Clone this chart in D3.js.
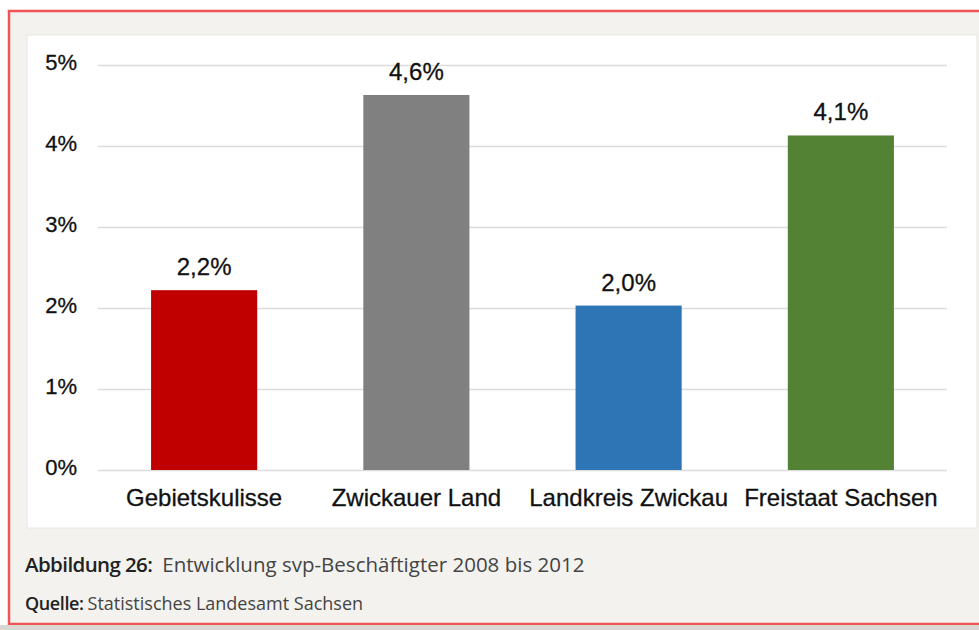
<!DOCTYPE html>
<head>
<meta charset="utf-8">
<style>
body { margin: 0; background: #fff; }
.tick text, .cat, .val { font-family: "Liberation Sans", Arial, sans-serif; fill: #111; stroke: #111; stroke-width: 0.3px; }
.caption { font-family: "Open Sans", Lato, sans-serif; fill: #333; }
</style>
<script src="https://d3js.org/d3.v7.min.js"></script>
</head>
<body>
<svg class="chart" width="979" height="630"></svg>
<script>

// Values (percent growth 2008-2012).
var categories = ["Gebietskulisse", "Zwickauer Land", "Landkreis Zwickau", "Freistaat Sachsen"];
var values = [2.22, 4.63, 2.03, 4.13];
var barColors = ["#c00000", "#808080", "#2e75b6", "#548235"];
var yTicks = [0, 1, 2, 3, 4, 5];

var svg = d3.select(".chart");

// Page background with the red frame.
svg.append("rect").attr("x", 0).attr("y", 0).attr("width", 979).attr("height", 630).attr("fill", "#fff");
svg.append("rect").attr("x", 9).attr("y", 11).attr("width", 980).attr("height", 613)
  .attr("fill", "#f3f2ee").attr("stroke", "#f05555").attr("stroke-width", 2.5);
svg.append("rect").attr("x", 0).attr("y", 625).attr("width", 979).attr("height", 5).attr("fill", "#d8d7d2");

// White chart panel.
svg.append("rect").attr("x", 27).attr("y", 35).attr("width", 950).attr("height", 493)
  .attr("fill", "#fff").attr("stroke", "#e6e6e6");

var x = d3.scaleBand().domain(categories).range([98, 947]).paddingInner(0.5).paddingOuter(0.25);
var y = d3.scaleLinear().domain([0, 5]).range([470, 65]);

// Gridlines and y labels.
var yAxis = svg.append("g")
  .attr("transform", "translate(98,0)")
  .call(d3.axisLeft(y).tickValues(yTicks).tickSize(-849).tickFormat(function(d) { return d + "%"; }));
yAxis.select(".domain").remove();
yAxis.selectAll(".tick line").attr("stroke", "#dcdcdc").attr("stroke-width", 1.5);
yAxis.selectAll(".tick text").attr("x", -21).attr("font-size", "22px").attr("dy", "0.2em");

// Bars.
svg.selectAll(".bar")
  .data(values)
  .enter().append("rect")
  .attr("class", "bar")
  .attr("x", function(d, i) { return x(categories[i]); })
  .attr("y", function(d) { return y(d); })
  .attr("width", x.bandwidth())
  .attr("height", function(d) { return y(0) - y(d); })
  .attr("fill", function(d, i) { return barColors[i]; });

// Value labels.
svg.selectAll(".val")
  .data(values)
  .enter().append("text")
  .attr("class", "val")
  .attr("x", function(d, i) { return x(categories[i]) + x.bandwidth() / 2; })
  .attr("y", function(d) { return y(d) - 15; })
  .attr("text-anchor", "middle")
  .attr("font-size", "24px")
  .text(function(d) { return d.toFixed(1).replace(".", ",") + "%"; });

// Category labels.
svg.selectAll(".cat")
  .data(categories)
  .enter().append("text")
  .attr("class", "cat")
  .attr("x", function(d) { return x(d) + x.bandwidth() / 2; })
  .attr("y", 506)
  .attr("text-anchor", "middle")
  .attr("font-size", "24px")
  .text(function(d) { return d; });

// Caption.
var cap = svg.append("text").attr("class", "caption").attr("x", 25).attr("y", 572).attr("font-size", "20.5px");
cap.append("tspan").attr("font-weight", "600").attr("fill", "#222").attr("letter-spacing", "-0.6").text("Abbildung 26:");
cap.append("tspan").attr("dx", 10).attr("fill", "#444").text("Entwicklung svp-Beschäftigter 2008 bis 2012");

var src = svg.append("text").attr("class", "caption").attr("x", 25).attr("y", 610).attr("font-size", "18px");
src.append("tspan").attr("font-weight", "600").attr("fill", "#222").attr("letter-spacing", "-0.4").text("Quelle:");
src.append("tspan").attr("dx", 4).attr("fill", "#444").text("Statistisches Landesamt Sachsen");

</script>
</body>
